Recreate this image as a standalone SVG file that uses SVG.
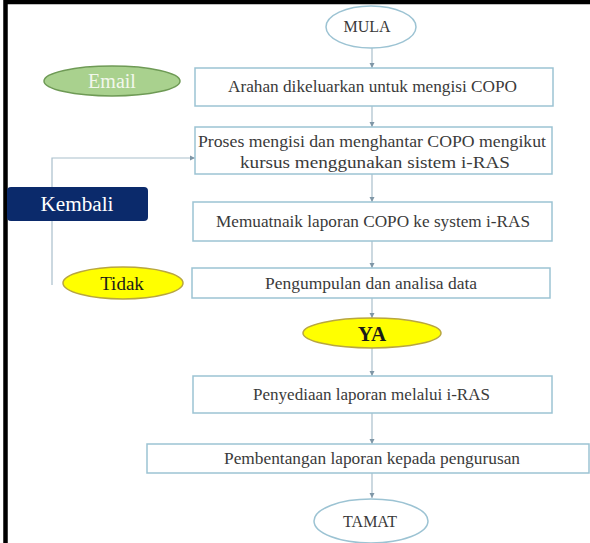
<svg xmlns="http://www.w3.org/2000/svg" width="590" height="543" viewBox="0 0 590 543">
<defs>
<marker id="ah" markerWidth="6" markerHeight="6" refX="5" refY="3" orient="auto" markerUnits="userSpaceOnUse">
<path d="M0,0.5 L5,3 L0,5.5 z" fill="#7f96a6"/>
</marker>
<style>
text{font-family:"Liberation Serif","Times New Roman",Times,serif}
.box{fill:#fff;stroke:#9cc3d3;stroke-width:1.5}
.term{fill:#fff;stroke:#9cc3d3;stroke-width:1.5}
.t{font-size:16px;fill:#3a3a3a;text-anchor:middle}
.c{fill:none;stroke:#a9bfcc;stroke-width:1.2}
.yel{fill:#ffff00;stroke:#b8a640;stroke-width:1.5}
</style>
</defs>
<rect x="0" y="0" width="590" height="543" fill="#fff"/>
<path d="M5.5,543 V2 H590" fill="none" stroke="#000" stroke-width="4.5"/>

<g id="connectors">
<line class="c" x1="372" y1="48" x2="372" y2="68" marker-end="url(#ah)"/>
<line class="c" x1="372" y1="106" x2="372" y2="127" marker-end="url(#ah)"/>
<line class="c" x1="372" y1="174" x2="372" y2="202" marker-end="url(#ah)"/>
<line class="c" x1="372" y1="241" x2="372" y2="268" marker-end="url(#ah)"/>
<line class="c" x1="372" y1="298" x2="372" y2="318" marker-end="url(#ah)"/>
<line class="c" x1="372" y1="348" x2="372" y2="376" marker-end="url(#ah)"/>
<line class="c" x1="372" y1="413" x2="372" y2="444" marker-end="url(#ah)"/>
<line class="c" x1="372" y1="473" x2="372" y2="498" marker-end="url(#ah)"/>
<path class="c" d="M52,285 V158 H195" marker-end="url(#ah)"/>
</g>

<g id="mula">
<ellipse class="term" cx="371" cy="27" rx="45" ry="21"/>
<text class="t" x="367" y="32" font-size="15">MULA</text>
</g>
<g id="email">
<ellipse cx="112" cy="81" rx="68" ry="15" fill="#a9d18e" stroke="#6e9a55" stroke-width="1.5"/>
<text x="112" y="88" font-size="20" fill="#f2f7ec" text-anchor="middle">Email</text>
</g>
<g id="box1">
<rect class="box" x="195" y="68" width="358" height="38"/>
<text class="t" x="372.5" y="92" textLength="289" lengthAdjust="spacingAndGlyphs">Arahan dikeluarkan untuk mengisi COPO</text>
</g>
<g id="box2">
<rect class="box" x="195" y="127" width="357" height="47"/>
<text class="t" x="372" y="147" textLength="348" lengthAdjust="spacingAndGlyphs">Proses mengisi dan menghantar COPO mengikut</text>
<text class="t" x="375" y="168" textLength="270" lengthAdjust="spacingAndGlyphs">kursus menggunakan sistem i-RAS</text>
</g>
<g id="kembali">
<rect x="7" y="187" width="141" height="34" rx="4" fill="#0b2a6b"/>
<text x="77" y="211" font-size="20" fill="#fff" text-anchor="middle" textLength="73" lengthAdjust="spacingAndGlyphs">Kembali</text>
</g>
<g id="box3">
<rect class="box" x="193" y="202" width="359" height="39"/>
<text class="t" x="373" y="227" textLength="314" lengthAdjust="spacingAndGlyphs">Memuatnaik laporan COPO ke system i-RAS</text>
</g>
<g id="tidak">
<ellipse class="yel" cx="123" cy="283" rx="60" ry="16"/>
<text x="122" y="290" font-size="19" fill="#1a1a1a" text-anchor="middle">Tidak</text>
</g>
<g id="box4">
<rect class="box" x="192" y="268" width="358" height="30"/>
<text class="t" x="371" y="289" textLength="212" lengthAdjust="spacingAndGlyphs">Pengumpulan dan analisa data</text>
</g>
<g id="ya">
<ellipse class="yel" cx="372" cy="333" rx="69" ry="15"/>
<text x="372" y="341" font-size="21" font-weight="bold" fill="#1a1a1a" text-anchor="middle">YA</text>
</g>
<g id="box5">
<rect class="box" x="193" y="376" width="359" height="37"/>
<text class="t" x="371.5" y="400" textLength="237" lengthAdjust="spacingAndGlyphs">Penyediaan laporan melalui i-RAS</text>
</g>
<g id="box6">
<rect class="box" x="147" y="444" width="442" height="29"/>
<text class="t" x="372" y="464" textLength="296" lengthAdjust="spacingAndGlyphs">Pembentangan laporan kepada pengurusan</text>
</g>
<g id="tamat">
<ellipse class="term" cx="371" cy="521" rx="57" ry="22"/>
<text class="t" x="370" y="527" font-size="15">TAMAT</text>
</g>
</svg>
